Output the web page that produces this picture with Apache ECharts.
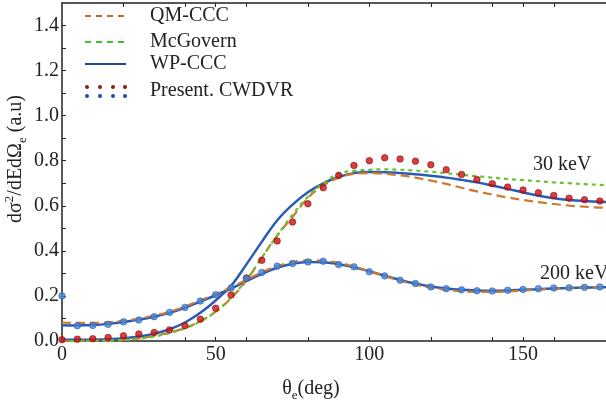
<!DOCTYPE html>
<html>
<head>
<meta charset="utf-8">
<script src="https://cdn.jsdelivr.net/npm/echarts@6/dist/echarts.min.js"></script>
<style>
  html, body { margin: 0; padding: 0; background: #ffffff; }
  #chart { width: 606px; height: 402px; }
</style>
</head>
<body>
<div id="chart"></div>
<script>
// Electron emission angle grid (deg) for the theoretical curves
const modelAngles = [0, 5, 10, 15, 20, 25, 30, 35, 40, 45, 50, 55, 60, 65, 70, 75, 80, 85, 90,
  95, 100, 105, 110, 115, 120, 125, 130, 135, 140, 145, 150, 155, 160, 165, 170, 175, 180];

// 30 keV
const wpccc30 = [0.005, 0.005, 0.006, 0.008, 0.012, 0.020, 0.032, 0.052, 0.082, 0.125, 0.180, 0.245, 0.340,
  0.440, 0.535, 0.605, 0.660, 0.700, 0.728, 0.745, 0.750, 0.749, 0.745, 0.740, 0.733, 0.725, 0.715,
  0.704, 0.690, 0.675, 0.659, 0.645, 0.634, 0.626, 0.621, 0.618, 0.617];
const qmccc30 = [0.000, 0.000, 0.001, 0.002, 0.005, 0.012, 0.022, 0.037, 0.058, 0.088, 0.130, 0.190, 0.268,
  0.370, 0.468, 0.550, 0.635, 0.690, 0.725, 0.742, 0.745, 0.742, 0.735, 0.725, 0.712, 0.697, 0.680,
  0.664, 0.650, 0.637, 0.626, 0.616, 0.608, 0.601, 0.596, 0.592, 0.590];
const mcgovern30 = [0.000, 0.000, 0.001, 0.002, 0.004, 0.010, 0.020, 0.035, 0.056, 0.087, 0.130, 0.192, 0.272,
  0.370, 0.468, 0.560, 0.640, 0.700, 0.743, 0.755, 0.760, 0.762, 0.760, 0.756, 0.751, 0.745, 0.738,
  0.731, 0.725, 0.719, 0.714, 0.709, 0.704, 0.700, 0.696, 0.693, 0.690];

// 200 keV
const wpccc200 = [0.070, 0.069, 0.071, 0.076, 0.084, 0.095, 0.108, 0.125, 0.148, 0.175, 0.203, 0.233, 0.266,
  0.298, 0.325, 0.343, 0.351, 0.350, 0.341, 0.327, 0.309, 0.290, 0.271, 0.255, 0.242, 0.233, 0.227,
  0.224, 0.223, 0.224, 0.227, 0.230, 0.233, 0.235, 0.237, 0.238, 0.239];
const qmccc200 = [0.082, 0.080, 0.080, 0.083, 0.090, 0.100, 0.113, 0.130, 0.153, 0.180, 0.208, 0.238, 0.272,
  0.305, 0.332, 0.350, 0.358, 0.356, 0.347, 0.330, 0.310, 0.288, 0.268, 0.250, 0.237, 0.227, 0.221,
  0.218, 0.218, 0.220, 0.224, 0.228, 0.232, 0.235, 0.237, 0.238, 0.239];

// Present CWDVR results
const cwdvrAngles = [0, 5, 10, 15, 20, 25, 30, 35, 40, 45, 50, 55, 60, 65, 70, 75, 80, 85, 90,
  95, 100, 105, 110, 115, 120, 125, 130, 135, 140, 145, 150, 155, 160, 165, 170, 175];
const cwdvr30 = [0.006, 0.008, 0.010, 0.016, 0.023, 0.031, 0.038, 0.049, 0.068, 0.097, 0.145, 0.204, 0.280,
  0.358, 0.444, 0.528, 0.609, 0.680, 0.735, 0.779, 0.800, 0.813, 0.808, 0.798, 0.782, 0.760, 0.739,
  0.717, 0.698, 0.683, 0.670, 0.658, 0.646, 0.634, 0.627, 0.621];
const cwdvr200 = [0.200, 0.068, 0.069, 0.074, 0.085, 0.093, 0.108, 0.127, 0.149, 0.177, 0.205, 0.235, 0.277,
  0.304, 0.332, 0.344, 0.351, 0.354, 0.339, 0.329, 0.307, 0.289, 0.270, 0.255, 0.240, 0.232, 0.227,
  0.223, 0.222, 0.225, 0.229, 0.232, 0.235, 0.236, 0.238, 0.240];

// Axis ticks and labels
const xLabelValues = [0, 50, 100, 150];
const xTickValues = [20, 40, 50, 60, 80, 100, 120, 140, 150, 160];
const yLabelValues = [0, 0.2, 0.4, 0.6, 0.8, 1.0, 1.2, 1.4];
const yTickValues = [0.1, 0.2, 0.3, 0.4, 0.5, 0.6, 0.7, 0.8, 0.9, 1.0, 1.1, 1.2, 1.3, 1.4];

const FONT = '"Liberation Serif", "Times New Roman", "DejaVu Serif", serif';
const INK = '#222222';
const C_QM = '#cc7a30';
const C_MCG = '#66c22e';
const C_WP = '#2b5cb3';
const C_RED = '#cc1010';
const C_BLUE = '#4285d8';

const pair = (xs, ys) => ys.map((v, i) => [xs[i], v]);

function curve(name, xs, ys, color, dash, width, z) {
  return {
    name, type: 'line', data: pair(xs, ys), smooth: 0.4, showSymbol: false,
    lineStyle: { color, width, type: dash }, z, silent: true
  };
}
function dots(name, xs, ys, color, border) {
  return {
    name, type: 'scatter', data: pair(xs, ys), symbolSize: 6.5, z: 10,
    itemStyle: { color, borderColor: border, borderWidth: 0.8 }
  };
}

const axisLine = { show: true, lineStyle: { color: INK, width: 1.5 } };

const chart = echarts.init(document.getElementById('chart'), null, { renderer: 'canvas' });
chart.setOption({
  animation: false,
  backgroundColor: '#ffffff',
  grid: { left: 62, right: 0, top: 3, bottom: 61 },
  xAxis: [{
    type: 'value', min: 0, max: 177,
    axisLine, splitLine: { show: false },
    axisTick: { inside: true, length: 4, customValues: xTickValues, lineStyle: { color: INK, width: 1 } },
    axisLabel: { customValues: xLabelValues, margin: 4, fontFamily: FONT, fontSize: 20, color: INK }
  }, {
    type: 'value', position: 'top', min: 0, max: 177,
    axisLine, splitLine: { show: false },
    axisTick: { inside: true, length: 4, customValues: xTickValues, lineStyle: { color: INK, width: 1 } },
    axisLabel: { show: false }
  }],
  yAxis: {
    type: 'value', min: 0, max: 1.5,
    axisLine, splitLine: { show: false },
    axisTick: { inside: true, length: 4, customValues: yTickValues, lineStyle: { color: INK, width: 1 } },
    axisLabel: {
      customValues: yLabelValues, margin: 3, fontFamily: FONT, fontSize: 20, color: INK,
      formatter: v => v.toFixed(1)
    }
  },
  series: [
    curve('QM-CCC 30 keV', modelAngles, qmccc30, C_QM, [9, 5], 2.2, 3),
    curve('McGovern 30 keV', modelAngles, mcgovern30, C_MCG, [4, 4], 2.2, 4),
    curve('WP-CCC 30 keV', modelAngles, wpccc30, C_WP, 'solid', 2.5, 2),
    curve('QM-CCC 200 keV', modelAngles, qmccc200, C_QM, [9, 5], 2.2, 3),
    curve('WP-CCC 200 keV', modelAngles, wpccc200, C_WP, 'solid', 2.5, 2),
    dots('CWDVR 30 keV', cwdvrAngles, cwdvr30, C_RED, '#8f0d0d'),
    dots('CWDVR 200 keV', cwdvrAngles, cwdvr200, C_BLUE, '#2a5fb0')
  ],
  graphic: [
    // legend
    { type: 'line', shape: { x1: 85, y1: 16, x2: 126, y2: 16 }, style: { stroke: '#c0642a', lineWidth: 2, lineDash: [6, 5] } },
    { type: 'line', shape: { x1: 85, y1: 42, x2: 126, y2: 42 }, style: { stroke: '#3fbf2a', lineWidth: 2, lineDash: [6, 5] } },
    { type: 'line', shape: { x1: 85, y1: 64, x2: 126, y2: 64 }, style: { stroke: '#2244a0', lineWidth: 2 } },
    ...[87, 100, 113, 125].map(x => ({ type: 'circle', shape: { cx: x, cy: 87, r: 2 }, style: { fill: '#8b1a1a' } })),
    ...[87, 100, 113, 125].map(x => ({ type: 'circle', shape: { cx: x, cy: 96, r: 2 }, style: { fill: '#2244b0' } })),
    { type: 'text', x: 150, y: 16, style: { text: 'QM-CCC', fill: INK, fontSize: 20, fontFamily: FONT, verticalAlign: 'middle' } },
    { type: 'text', x: 150, y: 42, style: { text: 'McGovern', fill: INK, fontSize: 20, fontFamily: FONT, verticalAlign: 'middle' } },
    { type: 'text', x: 150, y: 64, style: { text: 'WP-CCC', fill: INK, fontSize: 20, fontFamily: FONT, verticalAlign: 'middle' } },
    { type: 'text', x: 150, y: 91, style: { text: 'Present. CWDVR', fill: INK, fontSize: 20, fontFamily: FONT, verticalAlign: 'middle' } },
    // energy labels
    { type: 'text', x: 533, y: 165, style: { text: '30 keV', fill: INK, fontSize: 20, fontFamily: FONT, verticalAlign: 'middle' } },
    { type: 'text', x: 540, y: 274, style: { text: '200 keV', fill: INK, fontSize: 20, fontFamily: FONT, verticalAlign: 'middle' } },
    // axis titles
    {
      type: 'text', x: 311, y: 389,
      style: {
        text: '{n|θ}{sub|e}{n|(deg)}', align: 'center', verticalAlign: 'middle',
        rich: {
          n: { fontSize: 20, fontFamily: FONT, fill: INK, lineHeight: 26 },
          sub: { fontSize: 13, fontFamily: FONT, fill: INK, lineHeight: 13, verticalAlign: 'bottom' }
        }
      }
    },
    {
      type: 'text', x: 16, y: 159, rotation: Math.PI / 2,
      style: {
        text: '{n|dσ}{sup|2}{n|/dEdΩ}{sub|e}{n| (a.u)}', align: 'center', verticalAlign: 'middle',
        rich: {
          n: { fontSize: 20, fontFamily: FONT, fill: INK, lineHeight: 26 },
          sup: { fontSize: 13, fontFamily: FONT, fill: INK, lineHeight: 13, verticalAlign: 'top' },
          sub: { fontSize: 13, fontFamily: FONT, fill: INK, lineHeight: 13, verticalAlign: 'bottom' }
        }
      }
    }
  ]
});
</script>
</body>
</html>
